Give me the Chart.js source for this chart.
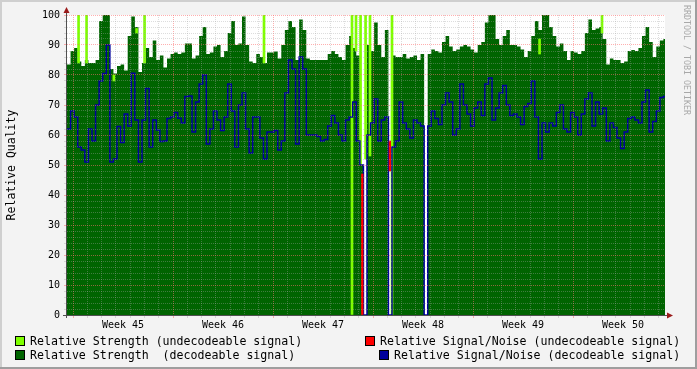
<!DOCTYPE html>
<html>
<head>
<meta charset="utf-8">
<script src="https://cdn.jsdelivr.net/npm/chart.js@4/dist/chart.umd.min.js"></script>
<style>
html,body{margin:0;padding:0;background:#f3f3f3;}
#wrap{position:relative;width:697px;height:369px;overflow:hidden;}
#c{position:absolute;left:0;top:0;}
.lg{position:absolute;font-family:"DejaVu Sans Mono",monospace;font-size:11.6px;line-height:14px;color:#000;white-space:pre;}
.sw{position:absolute;width:8px;height:8px;border:1px solid #000;}
#wm{position:absolute;left:682px;top:5px;writing-mode:vertical-rl;font-family:"DejaVu Sans Mono",monospace;font-size:8.3px;line-height:10px;color:#a8a8a8;white-space:pre;}
</style>
</head>
<body>
<div id="wrap">
<canvas id="c" width="697" height="369"></canvas>
<div id="wm">RRDTOOL / TOBI OETIKER</div>
</div>
<script>
// ---- data (6-hour samples, day 0 = left edge of plot) ----
const SAMPLE_DAYS = 0.25;
const X_MAX_DAYS = 41.86;
const weekStartDays = [0.42, 7.42, 14.42, 21.42, 28.42, 35.42];
const weekLabels = ['Week 45', 'Week 46', 'Week 47', 'Week 48', 'Week 49', 'Week 50'];
const yTickLabels = [0, 10, 20, 30, 40, 50, 60, 70, 80, 90, 100];

// Relative Strength (decodeable signal)
const strengthDecodeable = [
  83.5, 88, 89, 84.5, 83, 85, 84, 84, 85, 98,
  100, 100, 82, 80.5, 83, 83.5, 81.5, 93, 99.5, 96,
  81, 84, 89, 86, 91.5, 85, 86.5, 82.5, 85.5, 87,
  87.5, 87, 87.5, 90.5, 90.5, 85.5, 86.5, 93, 96, 87,
  87.5, 89.5, 90, 86, 88, 94, 98, 90, 90.5, 99.5,
  90, 84.5, 84, 87, 86, 84, 87.5, 87.5, 87.8, 85.5,
  90, 95, 98, 96, 85, 98.5, 95, 85.5, 85, 85,
  85, 85, 85, 87, 88, 87, 86, 85, 90, 93,
  89, 86.5, 50, 0, 90, 88, 97.5, 90, 86, 95,
  0, 86.5, 86, 86, 87, 85.5, 86, 86.5, 85, 87,
  0, 87, 88.5, 88, 87.5, 91, 93, 89.5, 88, 88.5,
  89.5, 90, 89.5, 88.5, 87.5, 90, 91, 97.5, 100, 100,
  92, 90, 93, 95, 90, 90, 89.5, 88.5, 86, 88,
  93, 98, 95, 100, 100, 96, 93, 89.5, 90.5, 88,
  85, 88, 87.5, 87, 88, 94, 98.5, 95, 95.5, 96,
  92, 83.5, 85.5, 85, 85, 84, 84.5, 88, 88.3, 88,
  89, 93, 96, 91, 86, 89.5, 91.5, 92
];

// Relative Signal/Noise (decodeable signal)
const snrDecodeable = [
  62, 68, 66, 56, 55, 51, 62, 58, 70, 78,
  80.5, 90, 51, 52, 62.8, 57.5, 67, 63, 80.6, 65,
  51, 65, 75.5, 56, 65, 61.7, 57.8, 58, 65.5, 66,
  67.5, 65.6, 64, 72.8, 73, 61, 71, 77, 80, 57,
  62, 68, 65, 61.5, 66, 77, 68, 56, 70, 74,
  62, 54, 66, 66, 59, 52, 61, 61, 61.5, 55,
  58, 74, 85, 82, 57, 86, 82, 60, 60, 60,
  59.5, 58, 58.5, 63, 66.5, 64, 60, 58, 65, 66,
  71, 58, 50, 0, 60, 64, 72, 58, 65, 66,
  0, 56, 58, 71, 64, 62, 59, 65, 64, 63,
  0, 63, 68, 65.5, 63.5, 70, 74, 71, 60, 62,
  77, 70, 67, 63, 69, 71, 66.5, 77, 79, 65,
  69, 74, 76.5, 70, 66.5, 67, 66, 63.5, 69.5, 70.5,
  78, 66, 52, 64, 61, 64, 63, 67.5, 70, 62,
  61, 67.5, 66, 60, 67, 72, 74, 63, 71, 67,
  69, 58, 64, 62.5, 59, 55.5, 61, 65.5, 66, 65,
  64, 71, 75, 61, 64.5, 68, 72.5, 72.8
];

// Relative Strength (undecodeable signal): short events [day, low, high]
const strengthUndecDays = [0.81, 1.37, 3.28, 4.87, 5.43, 13.79, 19.95, 20.23, 20.55, 20.90, 21.21, 22.75, 33.08, 37.45];
const strengthUndecLow  = [84,   84,   78,   94,   84,   84,    0,     88,    50,    52,    53,    0,     87,    94];
const strengthUndecHigh = [100,  100,  80,   95.5, 100,  100,   100,   100,   100,   100,   100,   100,   92,    100];

// Relative Signal/Noise (undecodeable signal)
const snrUndecDays = [20.67, 22.60];
const snrUndecLow  = [0, 48];
const snrUndecHigh = [47, 58];

const seriesNames = [
  'Relative Strength (undecodeable signal)',
  'Relative Signal/Noise (undecodeable signal)',
  'Relative Strength  (decodeable signal)',
  'Relative Signal/Noise (decodeable signal)'
];
const seriesColors = ['#7fff00', '#ff0000', '#006400', '#00009c'];

// ---- legend (HTML text) ----
const legendPos = [[15, 334], [365, 334], [15, 348], [379, 348]];
const wrap = document.getElementById('wrap');
seriesNames.forEach((name, i) => {
  const [lx, ly] = legendPos[i];
  const sw = document.createElement('div');
  sw.className = 'sw';
  sw.style.left = lx + 'px'; sw.style.top = (ly + 2) + 'px';
  sw.style.background = seriesColors[i];
  wrap.appendChild(sw);
  const t = document.createElement('div');
  t.className = 'lg';
  t.style.left = (lx + 15) + 'px'; t.style.top = ly + 'px';
  t.textContent = name;
  wrap.appendChild(t);
});

// ---- build datasets from arrays ----
function stepSeries(arr) {
  const pts = arr.map((v, k) => ({x: k * SAMPLE_DAYS, y: v}));
  pts.push({x: arr.length * SAMPLE_DAYS, y: arr[arr.length - 1]});
  return pts;
}
function floatBars(days, lo, hi) {
  return days.map((d, i) => ({x: d, y: [lo[i], hi[i]]}));
}

const MINOR = 'rgba(165,165,165,0.38)';
const MAJOR = 'rgba(255,110,110,0.55)';
const isWeekMid = v => weekStartDays.some(s => Math.abs(s + 3.5 - v) < 1e-6);
const isWeekStart = v => weekStartDays.some(s => Math.abs(s - v) < 1e-6);

const frame = {
  id: 'frame',
  beforeDraw(chart) {
    const {ctx, chartArea: a, width, height} = chart;
    ctx.save();
    ctx.fillStyle = '#f3f3f3'; ctx.fillRect(0, 0, width, height);
    ctx.fillStyle = '#cfcfcf'; ctx.fillRect(0, 0, width, 2); ctx.fillRect(0, 0, 2, height);
    ctx.fillStyle = '#9e9e9e'; ctx.fillRect(0, height - 2, width, 2); ctx.fillRect(width - 2, 0, 2, height);
    ctx.fillStyle = '#ffffff'; ctx.fillRect(a.left, a.top, a.right - a.left, a.bottom - a.top);
    ctx.restore();
  },
  afterDraw(chart) {
    const {ctx, chartArea: a} = chart;
    ctx.save();
    ctx.strokeStyle = '#505050'; ctx.lineWidth = 1;
    ctx.beginPath();
    ctx.moveTo(a.left - 0.5, a.bottom + 3); ctx.lineTo(a.left - 0.5, a.top - 6);
    ctx.moveTo(a.left - 4, a.bottom + 0.5); ctx.lineTo(a.right + 6, a.bottom + 0.5);
    ctx.stroke();
    ctx.fillStyle = '#9b1b1b';
    ctx.beginPath();
    ctx.moveTo(a.left - 0.5, a.top - 8); ctx.lineTo(a.left - 3.5, a.top - 2); ctx.lineTo(a.left + 2.5, a.top - 2); ctx.closePath(); ctx.fill();
    ctx.beginPath();
    ctx.moveTo(a.right + 8, a.bottom + 0.5); ctx.lineTo(a.right + 2, a.bottom - 2.5); ctx.lineTo(a.right + 2, a.bottom + 3.5); ctx.closePath(); ctx.fill();
    ctx.restore();
  }
};

new Chart(document.getElementById('c'), {
  type: 'line',
  data: {
    datasets: [
      {
        label: seriesNames[2], type: 'line', data: stepSeries(strengthDecodeable),
        stepped: true, fill: 'origin', backgroundColor: seriesColors[2],
        borderColor: 'rgba(0,0,0,0)', borderWidth: 0, pointRadius: 0, order: 5
      },
      {
        label: seriesNames[0], type: 'bar', data: floatBars(strengthUndecDays, strengthUndecLow, strengthUndecHigh),
        backgroundColor: seriesColors[0], borderWidth: 0, barThickness: 2, grouped: false, order: 4
      },
      {
        label: seriesNames[3], type: 'line', data: stepSeries(snrDecodeable),
        stepped: true, fill: false, borderColor: seriesColors[3], borderWidth: 1.5,
        pointRadius: 0, order: 3
      },
      {
        label: seriesNames[1], type: 'bar', data: floatBars(snrUndecDays, snrUndecLow, snrUndecHigh),
        backgroundColor: seriesColors[1], borderWidth: 0, barThickness: 1.6, grouped: false, order: 2
      }
    ]
  },
  options: {
    responsive: false,
    animation: false,
    events: [],
    layout: {padding: {top: 15, right: 32, left: 0, bottom: 0}},
    plugins: {legend: {display: false}, tooltip: {enabled: false}},
    scales: {
      x: {
        type: 'linear', min: 0, max: X_MAX_DAYS, offset: false,
        afterBuildTicks(scale) {
          const t = [];
          for (let v = weekStartDays[0] % 1; v <= X_MAX_DAYS + 1e-9; v += 1) t.push({value: +v.toFixed(4)});
          weekStartDays.forEach(s => { if (s + 3.5 <= X_MAX_DAYS) t.push({value: s + 3.5}); });
          t.sort((a, b) => a.value - b.value);
          scale.ticks = t;
        },
        afterFit(scale) { scale.height = 54; scale.paddingLeft = 0; scale.paddingRight = 0; },
        ticks: {
          autoSkip: false, maxRotation: 0, padding: 1, color: '#000',
          font: {family: '"DejaVu Sans Mono", monospace', size: 10},
          callback(value) {
            const i = weekStartDays.findIndex(s => Math.abs(s + 3.5 - value) < 1e-6);
            return i >= 0 ? weekLabels[i] : '';
          }
        },
        grid: {
          offset: false, z: 1, tickLength: 3,
          color(ctx) { const v = ctx.tick ? ctx.tick.value : null; if (v == null || isWeekMid(v)) return 'rgba(0,0,0,0)'; return isWeekStart(v) ? MAJOR : MINOR; },
          tickColor(ctx) { const v = ctx.tick ? ctx.tick.value : null; if (v == null || isWeekMid(v)) return 'rgba(0,0,0,0)'; return isWeekStart(v) ? MAJOR : MINOR; }
        },
        border: {display: false, dash: [1, 1]}
      },
      y: {
        type: 'linear', min: 0, max: 100,
        afterBuildTicks(scale) {
          const t = [];
          for (let v = 0; v <= 100; v += 2) t.push({value: v});
          scale.ticks = t;
        },
        afterFit(scale) { scale.width = 67; scale.paddingTop = 0; scale.paddingBottom = 0; },
        ticks: {
          autoSkip: false, padding: 4, color: '#000',
          font: {family: '"DejaVu Sans Mono", monospace', size: 10},
          callback(value) { return yTickLabels.includes(value) ? String(value) : ''; }
        },
        grid: {
          z: 1, tickLength: 3,
          color(ctx) { const v = ctx.tick ? ctx.tick.value : 0; return v % 10 === 0 ? MAJOR : MINOR; },
          tickColor(ctx) { const v = ctx.tick ? ctx.tick.value : 0; return v % 10 === 0 ? MAJOR : MINOR; }
        },
        border: {display: false, dash: [1, 1]},
        title: {
          display: true, text: 'Relative Quality', color: '#000',
          font: {family: '"DejaVu Sans Mono", monospace', size: 11.5},
          padding: {top: 5, bottom: 0}
        }
      }
    }
  },
  plugins: [frame]
});
</script>
</body>
</html>
